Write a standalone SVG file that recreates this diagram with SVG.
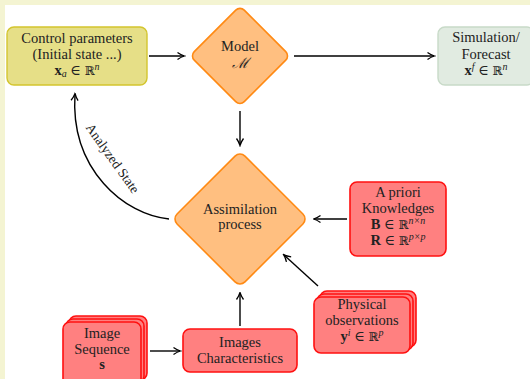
<svg xmlns="http://www.w3.org/2000/svg" width="530" height="379" viewBox="0 0 530 379">
<defs>
<style>
text{font-family:"Liberation Serif","DejaVu Serif",serif;font-size:14.5px;fill:#222;text-anchor:middle}
.i{font-style:italic}
.b{font-weight:bold}
.m{font-family:"DejaVu Serif","Liberation Serif",serif;font-size:12px}
.sup{font-size:10px}
.lbl{font-size:13.5px}
.yel{fill:#e6df87;stroke:#d3c52e;stroke-width:1.4}
.org{fill:#ffbf80;stroke:#ff8a14;stroke-width:1.6}
.grn{fill:#e1ebe1;stroke:#c8dac8;stroke-width:1.4}
.red{fill:#ff8080;stroke:#ff1010;stroke-width:1.6}
.c{fill:none;stroke:#000;stroke-width:1.4}
</style>
<marker id="ar" viewBox="0 0 10 10" refX="8.5" refY="5" markerWidth="10" markerHeight="10" markerUnits="userSpaceOnUse" orient="auto">
<path d="M2,1.5 Q5.5,4 9,5 Q5.5,6 2,8.5" fill="none" stroke="#000" stroke-width="1.3"/>
</marker>
</defs>
<rect x="0" y="0" width="530" height="379" fill="#f4f4d2"/>
<rect x="5" y="5" width="525" height="374" fill="#fff"/>

<g id="connectors">
<path class="c" d="M149,56 H184" marker-end="url(#ar)"/>
<path class="c" d="M294,56 H434" marker-end="url(#ar)"/>
<path class="c" d="M240,111 V145" marker-end="url(#ar)"/>
<path class="c" d="M347,219 H314" marker-end="url(#ar)"/>
<path class="c" d="M318,286 L284,255" marker-end="url(#ar)"/>
<path class="c" d="M150,351 H180" marker-end="url(#ar)"/>
<path class="c" d="M240,326 V293" marker-end="url(#ar)"/>
<path class="c" d="M169,219 C125,215 70,170 75,94" marker-end="url(#ar)"/>
<text class="lbl" transform="translate(109,161) rotate(54.5)">Analyzed State</text>
</g>

<g id="control">
<rect class="yel" x="7" y="27" width="140" height="58" rx="7"/>
<text x="77" y="43">Control parameters</text>
<text x="77" y="59">(Initial state ...)</text>
<text x="77" y="75"><tspan class="b">x</tspan><tspan class="i sup" dy="2">a</tspan><tspan dy="-2"> ∈ </tspan><tspan class="m">ℝ</tspan><tspan class="i sup" dy="-5">n</tspan></text>
</g>

<g id="model">
<rect class="org" x="204.6" y="20.6" width="70.7" height="70.7" rx="6" transform="rotate(45 240 56)"/>
<text x="240" y="51">Model</text>
<text x="240" y="68" class="i">ℳ</text>
</g>

<g id="forecast">
<rect class="grn" x="438" y="27" width="96" height="58" rx="7"/>
<text x="486" y="42">Simulation/</text>
<text x="486" y="59">Forecast</text>
<text x="486" y="75"><tspan class="b">x</tspan><tspan class="i sup" dy="-5">f</tspan><tspan dy="5"> ∈ </tspan><tspan class="m">ℝ</tspan><tspan class="i sup" dy="-5">n</tspan></text>
</g>

<g id="assimilation">
<rect class="org" x="192" y="171" width="96" height="96" rx="7" transform="rotate(45 240 219)"/>
<text x="240" y="214">Assimilation</text>
<text x="240" y="229">process</text>
</g>

<g id="apriori">
<rect class="red" x="350" y="182" width="96" height="74" rx="7"/>
<text x="398" y="197">A priori</text>
<text x="398" y="213">Knowledges</text>
<text x="398" y="229"><tspan class="b">B</tspan><tspan> ∈ </tspan><tspan class="m">ℝ</tspan><tspan class="i sup" dy="-5">n×n</tspan></text>
<text x="398" y="245"><tspan class="b">R</tspan><tspan> ∈ </tspan><tspan class="m">ℝ</tspan><tspan class="i sup" dy="-5">p×p</tspan></text>
</g>

<g id="observations">
<rect class="red" x="320" y="291" width="96" height="56" rx="7"/>
<rect class="red" x="317" y="294" width="96" height="56" rx="7"/>
<rect class="red" x="314" y="297" width="96" height="56" rx="7"/>
<text x="362" y="309">Physical</text>
<text x="362" y="325">observations</text>
<text x="362" y="341"><tspan class="b">y</tspan><tspan class="i sup" dy="-5">i</tspan><tspan dy="5"> ∈ </tspan><tspan class="m">ℝ</tspan><tspan class="i sup" dy="-5">p</tspan></text>
</g>

<g id="sequence">
<rect class="red" x="69" y="316" width="78" height="64" rx="7"/>
<rect class="red" x="66" y="319" width="78" height="64" rx="7"/>
<rect class="red" x="63" y="322" width="78" height="64" rx="7"/>
<text x="102" y="338">Image</text>
<text x="102" y="354">Sequence</text>
<text x="102" y="369" class="b">s</text>
</g>

<g id="characteristics">
<rect class="red" x="183" y="329" width="114" height="43" rx="7"/>
<text x="240" y="347">Images</text>
<text x="240" y="363">Characteristics</text>
</g>
</svg>
